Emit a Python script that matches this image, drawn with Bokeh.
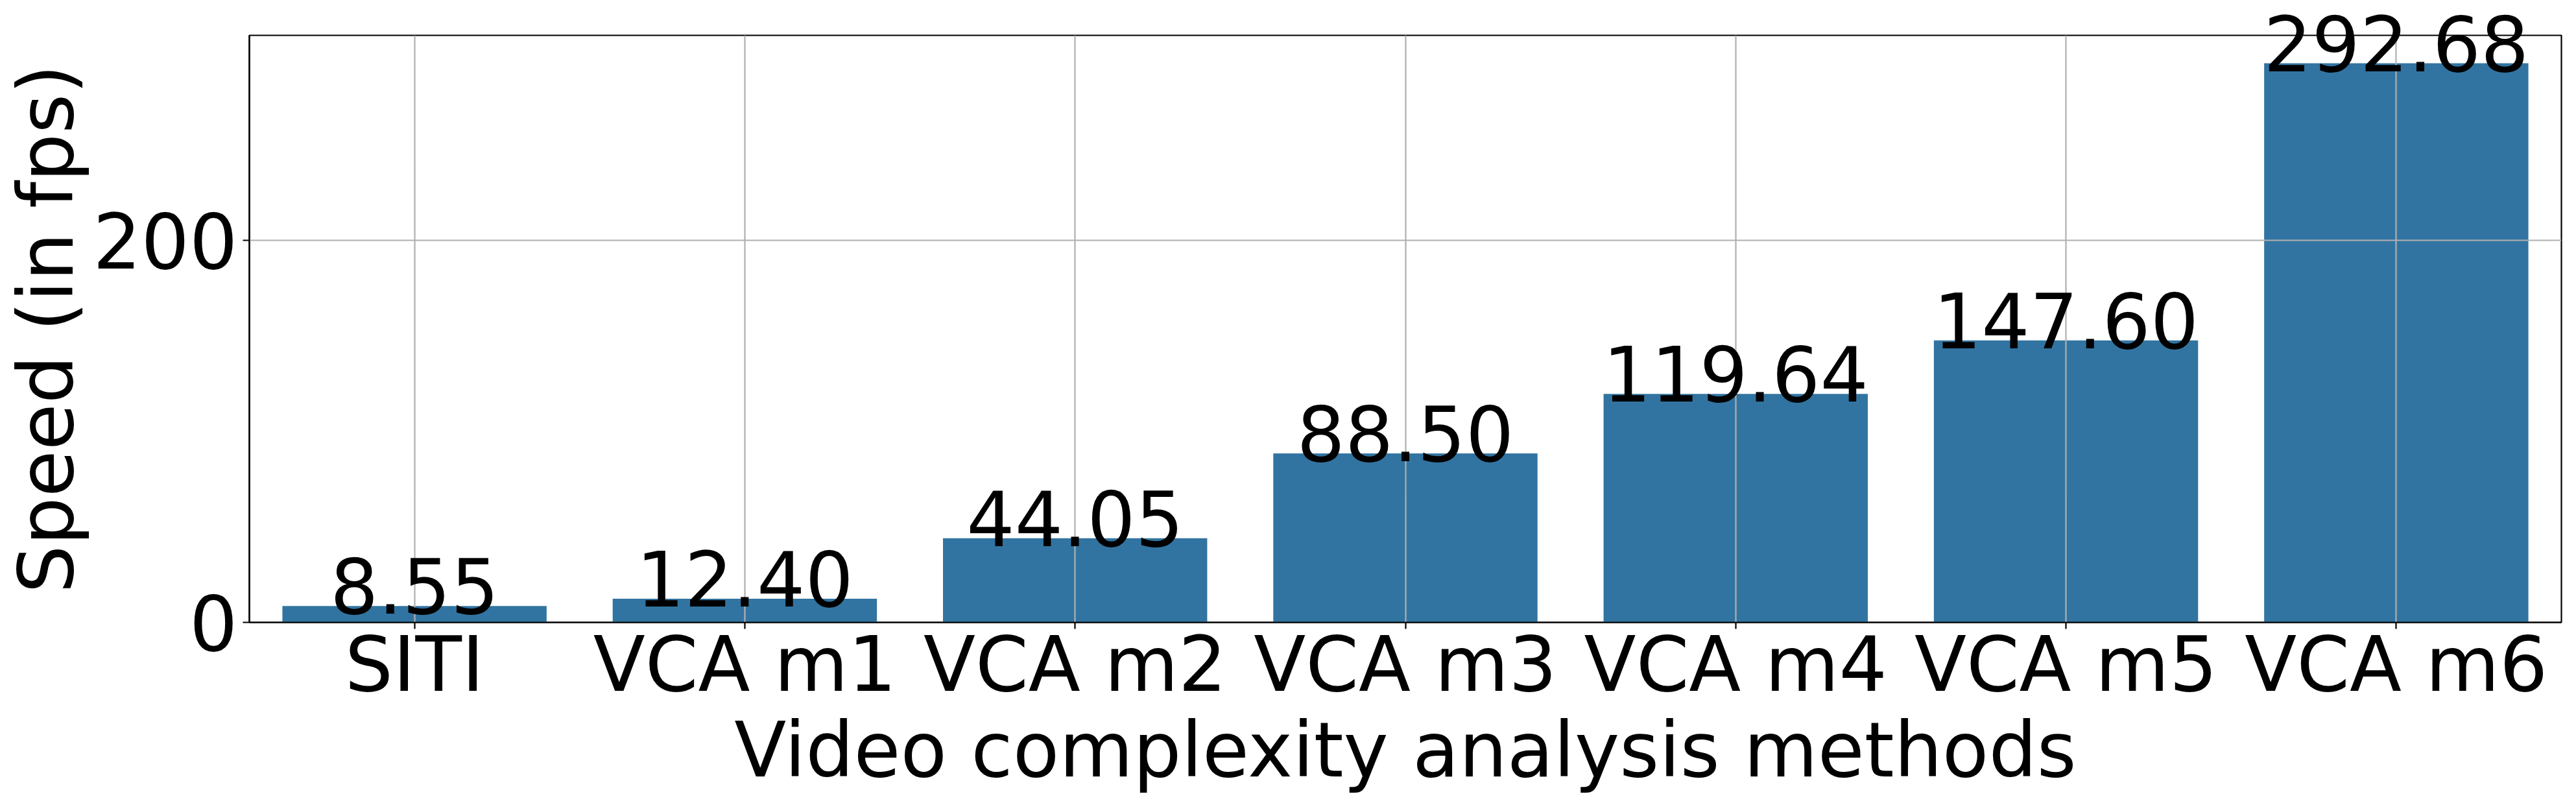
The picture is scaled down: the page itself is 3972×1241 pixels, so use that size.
from bokeh.plotting import figure
from bokeh.models import FactorRange, Range1d, FixedTicker, ColumnDataSource
from bokeh.core.properties import value
from bokeh.embed import file_html
from bokeh.resources import INLINE

methods = ["SITI", "VCA m1", "VCA m2", "VCA m3", "VCA m4", "VCA m5", "VCA m6"]
speeds = [8.55, 12.40, 44.05, 88.50, 119.64, 147.60, 292.68]
y_ticks = [0, 200]
x_title = "Video complexity analysis methods"
y_title = "Speed (in fps)"

labels = [f"{v:.2f}" for v in speeds]
src = ColumnDataSource(dict(x=methods, top=speeds, label=labels))

FONT = "DejaVu Sans"
FS = "117px"

p = figure(
    x_range=FactorRange(*methods, range_padding=0),
    y_range=Range1d(0, max(speeds) * 1.05),
    frame_width=3565, frame_height=905,
    min_border_left=380, min_border_right=11,
    min_border_top=54, min_border_bottom=266,
    output_backend="svg", toolbar_location=None,
)
p.x_range.factor_padding = 0
p.x_range.group_padding = 0

bars = p.vbar(x="x", top="top", bottom=0, width=0.8, source=src,
              fill_color="#3274a1", line_color=None)
bars.level = "underlay"

t = p.text(x="x", y="top", text="label", source=src,
           text_font=value(FONT), text_font_size=value(FS), text_align="center",
           text_baseline="alphabetic", y_offset=-31, text_color="black")
t.level = "overlay"

for g in (p.xgrid, p.ygrid):
    g.grid_line_color = "#b0b0b0"
    g.grid_line_width = 2.2
    g.level = "glyph"
p.yaxis.ticker = FixedTicker(ticks=y_ticks)

p.outline_line_color = "black"
p.outline_line_width = 2.2
p.outline_line_alpha = 1

for ax in (p.xaxis[0], p.yaxis[0]):
    ax.axis_line_color = "black"
    ax.axis_line_width = 2.2
    ax.major_tick_line_color = "black"
    ax.major_tick_line_width = 2.2
    ax.major_tick_out = 10
    ax.major_tick_in = 0
    ax.minor_tick_out = 0
    ax.minor_tick_in = 0
    ax.major_label_text_font = FONT
    ax.major_label_text_font_size = FS
    ax.major_label_text_color = "black"
    ax.axis_label_text_font = FONT
    ax.axis_label_text_font_size = FS
    ax.axis_label_text_font_style = "normal"
    ax.axis_label_text_color = "black"

p.xaxis.axis_label = x_title
p.yaxis.axis_label = y_title
p.xaxis.major_label_standoff = -14
p.xaxis.axis_label_standoff = -8
p.yaxis.major_label_standoff = 8
p.yaxis.axis_label_standoff = 0
p.xaxis.major_label_orientation = "horizontal"

open("out.html", "w").write(file_html(p, INLINE))
